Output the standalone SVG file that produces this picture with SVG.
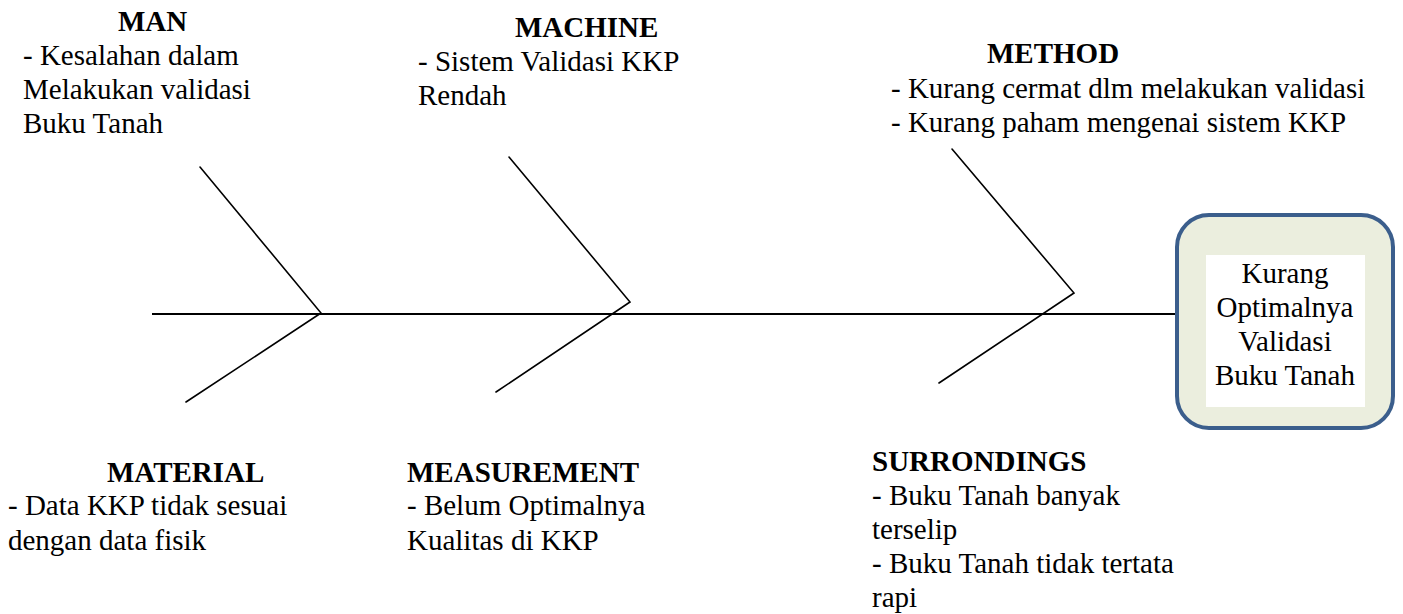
<svg xmlns="http://www.w3.org/2000/svg" width="1403" height="614" viewBox="0 0 1403 614">
<style>
.t{font-family:"Liberation Serif","Times New Roman",serif;font-size:29px;fill:#000}
.b{font-weight:bold}
.c{text-anchor:middle}
.bone{stroke:#000;stroke-width:1.6;fill:none;stroke-linecap:round}
.spine{stroke:#000;stroke-width:2;fill:none}
</style>
<rect width="1403" height="614" fill="#fff"/>
<g id="connectors">
<line class="spine" x1="152" y1="314" x2="1176" y2="314"/>
<polyline class="bone" points="200,167 321,313 186,402"/>
<polyline class="bone" points="509,157 630,302 496,392"/>
<polyline class="bone" points="952,149 1074,293 939,383"/>
</g>
<g id="man">
<text class="t b" x="118" y="31">MAN</text>
<text class="t" x="23" y="65">- Kesalahan dalam</text>
<text class="t" x="23" y="99">Melakukan validasi</text>
<text class="t" x="23" y="133">Buku Tanah</text>
</g>
<g id="machine">
<text class="t b" x="515" y="37">MACHINE</text>
<text class="t" x="418" y="71">- Sistem Validasi KKP</text>
<text class="t" x="418" y="105">Rendah</text>
</g>
<g id="method">
<text class="t b" x="987" y="63">METHOD</text>
<text class="t" x="891" y="98">- Kurang cermat dlm melakukan validasi</text>
<text class="t" x="891" y="132">- Kurang paham mengenai sistem KKP</text>
</g>
<g id="material">
<text class="t b" x="107" y="482">MATERIAL</text>
<text class="t" x="8" y="515">- Data KKP tidak sesuai</text>
<text class="t" x="8" y="550">dengan data fisik</text>
</g>
<g id="measurement">
<text class="t b" x="407" y="482">MEASUREMENT</text>
<text class="t" x="407" y="515">- Belum Optimalnya</text>
<text class="t" x="407" y="550">Kualitas di KKP</text>
</g>
<g id="surrondings">
<text class="t b" x="872" y="471">SURRONDINGS</text>
<text class="t" x="872" y="505">- Buku Tanah banyak</text>
<text class="t" x="872" y="539">terselip</text>
<text class="t" x="872" y="573">- Buku Tanah tidak tertata</text>
<text class="t" x="872" y="607">rapi</text>
</g>
<g id="effect">
<rect x="1177" y="215" width="216" height="213" rx="32" ry="32" fill="#EBEEDE" stroke="#3B5E8C" stroke-width="4"/>
<rect x="1206" y="255" width="159" height="152" fill="#fff"/>
<text class="t c" x="1285" y="283">Kurang</text>
<text class="t c" x="1285" y="317">Optimalnya</text>
<text class="t c" x="1285" y="351">Validasi</text>
<text class="t c" x="1285" y="385">Buku Tanah</text>
</g>
</svg>
